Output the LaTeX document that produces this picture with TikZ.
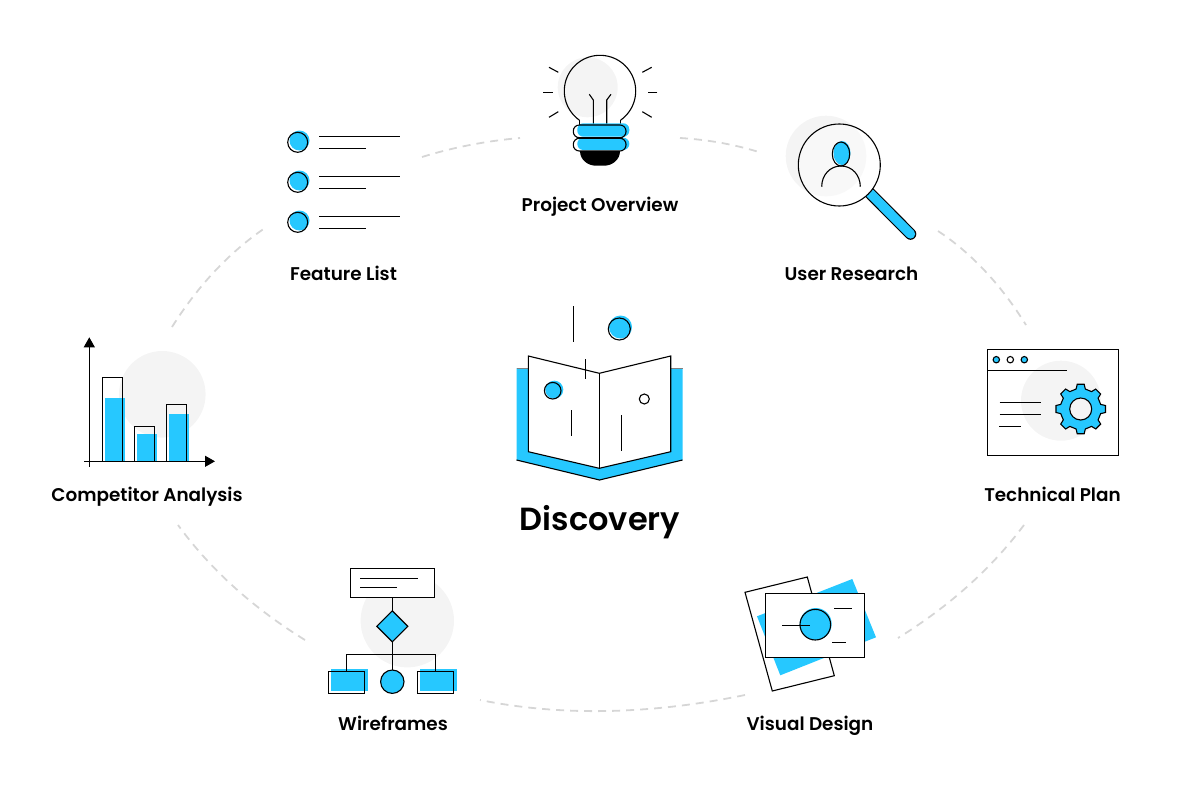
\documentclass[tikz,border=0pt]{standalone}
\usepackage{fontspec}
\setmainfont{Poppins}[UprightFont=* Medium, BoldFont=* SemiBold]
\usetikzlibrary{arrows.meta, shapes.geometric}
\definecolor{skyblue}{HTML}{26C8FF}
\definecolor{discgrey}{HTML}{F4F4F4}
\definecolor{lensgrey}{HTML}{F8F8F8}
\definecolor{dashgrey}{HTML}{D6D6D6}
\begin{document}
\begin{tikzpicture}
    [x=1pt, y=-1pt,
    IconLine/.style={draw=black, line width=1.1pt},
    DashLine/.style={draw=dashgrey, line width=1.8pt, dash pattern=on 8pt off 6pt},
    Caption/.style={font=\fontsize{18.4}{20}\selectfont\bfseries, text=black, inner sep=0pt, anchor=base},
    BoxNode/.style={rectangle, draw=black, line width=1.1pt, inner sep=0pt, outer sep=0pt},
    AxisTip/.style={-{Triangle[length=10pt, width=11pt]}}]
    \useasboundingbox (0, 0) rectangle (1200, 803);
    % dashed ring
    \draw[DashLine] (422, 157) .. controls (453.3, 147.3) and (486, 141) .. (520, 138);
    \draw[DashLine] (680, 138) .. controls (708.7, 139.7) and (736, 144.7) .. (762, 153);
    \draw[DashLine] (938, 231) .. controls (971.3, 253) and (1000.7, 284.3) .. (1026, 325);
    \draw[DashLine] (1024, 525) .. controls (991.3, 568.7) and (949.3, 606.3) .. (898, 638);
    \draw[DashLine] (745, 695) .. controls (649.3, 714.7) and (561, 716.3) .. (480, 700);
    \draw[DashLine] (305, 640) .. controls (252.7, 607.7) and (210.3, 569.3) .. (178, 525);
    \draw[DashLine] (172, 327) .. controls (198.3, 285.3) and (229.3, 252.3) .. (265, 228);
    % book
    \fill[skyblue] (516.5, 368) -- (540, 368) -- (599.5, 400) -- (660, 368) -- (682.5, 368) -- (682.5, 460) -- (599.5, 480) -- (516.5, 460) -- cycle;
    \draw[gray, line width=0.6pt] (516.5, 368) -- (528.3, 368);
    \draw[gray, line width=0.6pt] (670.7, 368) -- (682.5, 368);
    \draw[IconLine] (516.5, 460) -- (599.5, 480) -- (682.5, 460);
    \draw[IconLine, fill=white] (528.3, 356) -- (599.3, 373.3) -- (670.7, 356) -- (670.7, 451.7) -- (599.3, 468.3) -- (528.3, 451.7) -- cycle;
    \draw[IconLine] (599.3, 373.3) -- (599.3, 468.3);
    \draw[IconLine] (573.3, 306) -- (573.3, 341.7);
    \draw[IconLine] (585.3, 359.3) -- (585.3, 378.7);
    \draw[IconLine] (571.3, 410) -- (571.3, 435.7);
    \draw[IconLine] (621.3, 415) -- (621.3, 450.7);
    \fill[skyblue] (620.5, 327) circle (11.5pt);
    \draw[IconLine] (619.3, 329) circle (11pt);
    \fill[skyblue] (554.3, 389.7) circle (9pt);
    \draw[IconLine] (552.7, 390.7) circle (8.3pt);
    \draw[IconLine] (644.3, 399) circle (5pt);
    \node[font=\fontsize{32}{38}\selectfont\bfseries, inner sep=0pt, anchor=base] (title) at (600, 530) {Discovery};
    % bulb
    \fill[discgrey] (587.7, 87.3) circle (30pt);
    \draw[IconLine] plot[domain=125.4:414.6, samples=70, smooth] ({600+35.7*cos(\x)}, {91+35.7*sin(\x)});
    \draw[IconLine] (579.3, 120) -- (579.3, 125) -- (620.7, 125) -- (620.7, 120);
    \draw[IconLine] (589.3, 94.3) -- (593.3, 100) -- (593.3, 125);
    \draw[IconLine] (611, 94.3) -- (606.7, 100) -- (606.7, 125);
    \fill[skyblue, rounded corners=6pt] (577.3, 123.3) rectangle (629.3, 136.7);
    \fill[skyblue, rounded corners=6pt] (577.3, 137.7) rectangle (629.3, 150);
    \draw[IconLine, rounded corners=6pt] (573.3, 125) rectangle (626, 137.7);
    \draw[IconLine, rounded corners=6pt] (573.3, 138.3) rectangle (626, 151);
    \fill[black] (580, 151) -- (620, 151) .. controls (620, 160) and (612, 165.7) .. (604, 165.7) -- (596, 165.7) .. controls (588, 165.7) and (580, 160) .. (580, 151) -- cycle;
    \draw[IconLine] (549, 67.3) -- (558.3, 72.3);
    \draw[IconLine] (543.3, 92.3) -- (553.3, 92.3);
    \draw[IconLine] (549, 117.3) -- (558.3, 111.7);
    \draw[IconLine] (651.7, 67.3) -- (642.3, 72.3);
    \draw[IconLine] (657.3, 92.3) -- (648, 92.3);
    \draw[IconLine] (651.7, 117.3) -- (642.3, 111.7);
    \node[Caption] (overview) at (600, 211) {Project Overview};
    % feature list
    \foreach \row in {0, 40, 80} {
        \fill[skyblue] (299.5, 140.5+\row) circle (10pt);
        \draw[IconLine] (297.7, 142.3+\row) circle (10pt);
        \draw[IconLine] (319, 136.5+\row) -- (400, 136.5+\row);
        \draw[IconLine] (319, 148.5+\row) -- (365.7, 148.5+\row);
    }
    \node[Caption] (features) at (343.5, 280) {Feature List};
    % magnifier
    \fill[discgrey] (826, 156) circle (40.3pt);
    \draw[black, line width=11.6pt, line cap=round] (870, 193.3) -- (910.5, 234);
    \draw[skyblue, line width=9.4pt, line cap=round] (870, 193.3) -- (910.5, 234);
    \fill[white] (839.3, 165) circle (41pt);
    \begin{scope}
        \clip (839.3, 165) circle (41pt);
        \fill[lensgrey] (826, 156) circle (40.3pt);
    \end{scope}
    \draw[IconLine] (839.3, 165) circle (41pt);
    \fill[skyblue] (842, 153) ellipse (8.5pt and 12pt);
    \draw[IconLine] (841, 154) ellipse (8.7pt and 12pt);
    \draw[IconLine] (821.7, 186.7) .. controls (821.7, 175) and (830, 166) .. (841, 166) .. controls (852, 166) and (860.3, 175) .. (860.3, 186.7);
    \node[Caption] (research) at (851.5, 280) {User Research};
    % technical plan
    \draw[IconLine] (987.7, 349.3) rectangle (1118.3, 455.3);
    \fill[discgrey] (1061, 400.7) circle (40pt);
    \draw[IconLine] (987.7, 370.3) -- (1066.7, 370.3);
    \foreach \dotx/\dotfill in {996.3/skyblue, 1010.3/white, 1024.3/skyblue} {
        \draw[IconLine, fill=\dotfill] (\dotx, 359.7) circle (3.2pt);
    }
    \draw[IconLine] (999.7, 402.3) -- (1041, 402.3);
    \draw[IconLine] (999.7, 414.3) -- (1041, 414.3);
    \draw[IconLine] (999, 426.3) -- (1021, 426.3);
    \draw[IconLine, fill=skyblue] ({1080.7+25*cos(-8)}, {409+25*sin(-8)})
        \foreach \a in {0, 45, ..., 315} {
            -- ({1080.7+25*cos(\a-8)}, {409+25*sin(\a-8)})
            -- ({1080.7+25*cos(\a+8)}, {409+25*sin(\a+8)})
            -- ({1080.7+20.5*cos(\a+13)}, {409+20.5*sin(\a+13)})
            -- ({1080.7+20.5*cos(\a+32)}, {409+20.5*sin(\a+32)})
        } -- cycle;
    \draw[IconLine, fill=discgrey] (1080.7, 409) circle (11pt);
    \node[Caption] (plan) at (1052.5, 501) {Technical Plan};
    % visual design
    \draw[IconLine] (745, 592.3) -- (807.3, 577) -- (834.3, 675.7) -- (772.3, 691) -- cycle;
    \fill[skyblue] (757, 616.3) -- (852.3, 579) -- (876, 637.3) -- (780.3, 675.3) -- cycle;
    \draw[IconLine, fill=white] (765.7, 593.3) rectangle (864.3, 657.3);
    \fill[skyblue] (815.7, 624) circle (16pt);
    \draw[IconLine] (815.3, 624.7) circle (15.3pt);
    \draw[IconLine] (782.3, 625.3) -- (809.7, 625.3);
    \draw[IconLine] (834.3, 608.3) -- (851.7, 608.3);
    \draw[IconLine] (832.3, 642.3) -- (845.7, 642.3);
    \node[Caption] (design) at (810, 730.5) {Visual Design};
    % wireframes
    \fill[discgrey] (407.3, 620.7) circle (46.7pt);
    \fill[skyblue] (331, 669) rectangle (368, 691);
    \fill[skyblue] (420, 669) rectangle (457, 691);
    \node[BoxNode, fill=white, minimum width=84pt, minimum height=29pt] (topbox) at (392.3, 582.8) {};
    \node[diamond, draw=black, line width=1.1pt, fill=skyblue, inner sep=0pt, outer sep=0pt, minimum width=31pt, minimum height=31pt] (choice) at (392.3, 626.3) {};
    \node[BoxNode, minimum width=36pt, minimum height=22pt] (leftbox) at (346.3, 682.3) {};
    \node[circle, draw=black, line width=1.1pt, fill=skyblue, inner sep=0pt, outer sep=0pt, minimum size=23.4pt] (middot) at (392.3, 681.7) {};
    \node[BoxNode, minimum width=36pt, minimum height=22pt] (rightbox) at (435.5, 682.3) {};
    \coordinate (branch) at (392.3, 654.3);
    \draw[IconLine] (topbox) -- (choice);
    \draw[IconLine] (choice) -- (middot);
    \draw[IconLine] (branch) -| (leftbox);
    \draw[IconLine] (branch) -| (rightbox);
    \draw[IconLine] (360, 578.3) -- (417.7, 578.3);
    \draw[IconLine] (360, 587.3) -- (396.7, 587.3);
    \node[Caption] (wires) at (393, 730.5) {Wireframes};
    % competitor chart
    \fill[discgrey] (162.3, 394.3) circle (43.3pt);
    \fill[skyblue] (105, 398) rectangle (125, 461.3);
    \fill[skyblue] (137, 434) rectangle (157, 461.3);
    \fill[skyblue] (169, 414) rectangle (189, 461.3);
    \draw[IconLine] (102.3, 461.3) rectangle (122.3, 377.3);
    \draw[IconLine] (134.3, 461.3) rectangle (154.3, 426.3);
    \draw[IconLine] (166.7, 461.3) rectangle (186.7, 404.3);
    \coordinate (ybase) at (89.3, 466.7);
    \coordinate (ytop) at (89.3, 337.3);
    \coordinate (xbase) at (84.3, 461.3);
    \coordinate (xtop) at (215, 461.3);
    \draw[IconLine, AxisTip] (ybase) -- (ytop);
    \draw[IconLine, AxisTip] (xbase) -- (xtop);
    \node[Caption] (rivals) at (147, 501) {Competitor Analysis};
\end{tikzpicture}
\end{document}
